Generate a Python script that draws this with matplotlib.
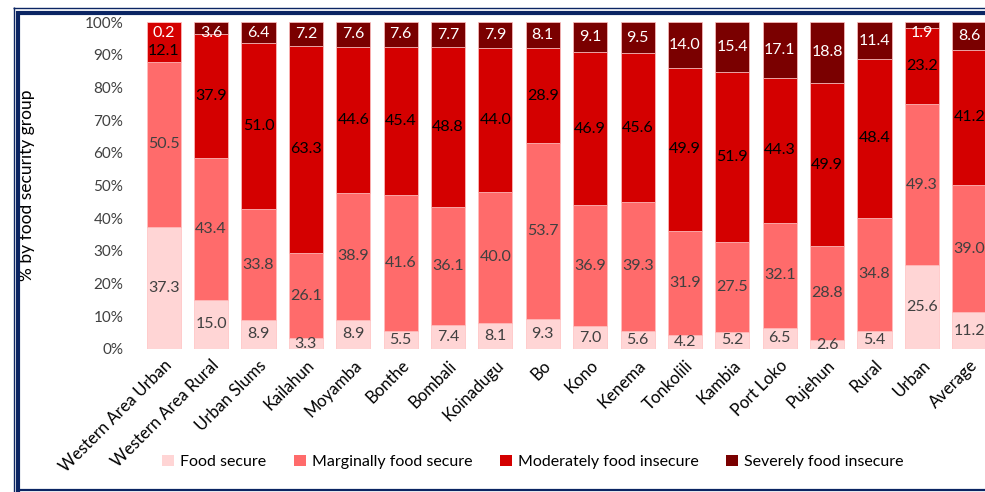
import matplotlib
matplotlib.use("Agg")
import matplotlib.pyplot as plt
from matplotlib.lines import Line2D
from matplotlib.patches import Patch
import numpy as np

plt.rcParams['font.family'] = ['Lato', 'DejaVu Sans']

categories = ["Western Area Urban", "Western Area Rural", "Urban Slums", "Kailahun",
              "Moyamba", "Bonthe", "Bombali", "Koinadugu", "Bo", "Kono", "Kenema",
              "Tonkolili", "Kambia", "Port Loko", "Pujehun", "Rural", "Urban", "Average"]
food_secure = [37.3, 15.0, 8.9, 3.3, 8.9, 5.5, 7.4, 8.1, 9.3, 7.0, 5.6, 4.2, 5.2, 6.5, 2.6, 5.4, 25.6, 11.2]
marginal = [50.5, 43.4, 33.8, 26.1, 38.9, 41.6, 36.1, 40.0, 53.7, 36.9, 39.3, 31.9, 27.5, 32.1, 28.8, 34.8, 49.3, 39.0]
moderate = [12.1, 37.9, 51.0, 63.3, 44.6, 45.4, 48.8, 44.0, 28.9, 46.9, 45.6, 49.9, 51.9, 44.3, 49.9, 48.4, 23.2, 41.2]
severe = [0.2, 3.6, 6.4, 7.2, 7.6, 7.6, 7.7, 7.9, 8.1, 9.1, 9.5, 14.0, 15.4, 17.1, 18.8, 11.4, 1.9, 8.6]
series_names = ["Food secure", "Marginally food secure", "Moderately food insecure", "Severely food insecure"]
yticks = [0, 10, 20, 30, 40, 50, 60, 70, 80, 90, 100]

colors = ["#FFD5D5", "#FF6B6B", "#D40000", "#7A0000"]
label_colors = ["#404040", "#404040", "#000000", "#FFFFFF"]

W, H = 985, 492
fig = plt.figure(figsize=(W / 100, H / 100), dpi=100)
ax = fig.add_axes([140 / W, 143 / H, 853 / W, 327 / H])

series = [food_secure, marginal, moderate, severe]
x = np.arange(len(categories))
bottom = np.zeros(len(categories))
bottoms = []
for vals, c, name in zip(series, colors, series_names):
    vals = np.array(vals)
    ax.bar(x, vals, bottom=bottom, width=0.72, color=c, edgecolor="#FFC0C0",
           linewidth=0.5, label=name)
    bottoms.append(bottom.copy())
    bottom = bottom + vals

# data labels
for i in range(len(categories)):
    ys = []
    for k in range(4):
        ys.append(bottoms[k][i] + series[k][i] / 2)
    ys[3] = min(ys[3], 96.5)
    for k in (2, 1, 0):
        ys[k] = min(ys[k], ys[k + 1] - 5.5)
    for k in range(4):
        ax.text(x[i], ys[k], f"{series[k][i]:.1f}", ha="center", va="center",
                fontsize=11.5, color=label_colors[k])

ax.set_xlim(-0.5, len(categories) - 0.5)
ax.set_ylim(0, 100)
ax.set_yticks(yticks)
ax.set_yticklabels([f"{t}%" for t in yticks], fontsize=11, color="#404040")
ax.set_xticks(x)
ax.set_xticklabels(categories, rotation=45, ha="right", rotation_mode="anchor",
                   fontsize=12, color="#000000")
ax.tick_params(axis="both", length=0)
ax.tick_params(axis="y", pad=12)
ax.tick_params(axis="x", pad=6)
for s in ax.spines.values():
    s.set_visible(False)
ax.set_ylabel("% by food security group", fontsize=12.5, color="#000000")
ax.yaxis.set_label_coords(-105 / 853, 0.5)

handles = [Patch(facecolor=c, edgecolor="none") for c in colors]
fig.legend(handles, series_names, loc="center", bbox_to_anchor=(533 / W, 1 - 462 / H),
           ncol=4, frameon=False, fontsize=11.5, handlelength=0.75, handleheight=0.75,
           handletextpad=0.4, columnspacing=1.7)

# frame lines
navy = "#0B2563"
def fl(xs, ys, lw):
    fig.add_artist(Line2D([v / W for v in xs], [1 - v / H for v in ys], color=navy,
                          linewidth=lw, transform=fig.transFigure, solid_capstyle="butt"))
fl([13, 985], [7.5, 7.5], 1.0)
fl([13.5, 13.5], [7, 492], 1.0)
fl([16, 985], [13, 13], 3.0)
fl([18, 18], [11, 492], 3.0)
fl([16, 985], [490, 490], 1.6)

fig.savefig("out.png", dpi=100)
